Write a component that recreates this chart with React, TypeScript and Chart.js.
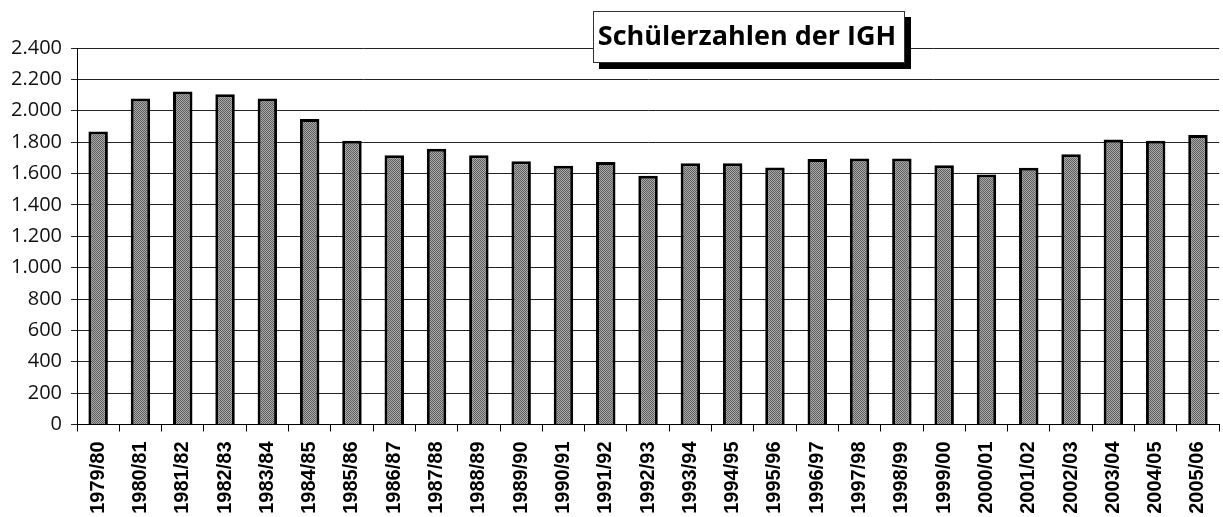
import React, { useEffect, useRef } from "react";
import { Chart, registerables } from "chart.js";

Chart.register(...registerables);

const categories = [
  "1979/80", "1980/81", "1981/82", "1982/83", "1983/84", "1984/85", "1985/86",
  "1986/87", "1987/88", "1988/89", "1989/90", "1990/91", "1991/92", "1992/93",
  "1993/94", "1994/95", "1995/96", "1996/97", "1997/98", "1998/99", "1999/00",
  "2000/01", "2001/02", "2002/03", "2003/04", "2004/05", "2005/06",
];

const students = [
  1867, 2078, 2122, 2105, 2078, 1948, 1809,
  1716, 1758, 1716, 1678, 1650, 1674, 1586,
  1665, 1665, 1639, 1693, 1695, 1695, 1652,
  1593, 1637, 1722, 1816, 1809, 1846,
];

const yTickValues = [0, 200, 400, 600, 800, 1000, 1200, 1400, 1600, 1800, 2000, 2200, 2400];

const chartTitle = "Schülerzahlen der IGH";

function formatThousands(v: number): string {
  const s = String(Math.round(v));
  return s.replace(/\B(?=(\d{3})+(?!\d))/g, ".");
}

const titlePlugin = {
  id: "boxedTitle",
  afterDraw(chart: any) {
    const ctx = chart.ctx as CanvasRenderingContext2D;
    const x = 593, y = 11, w = 312, h = 52, sh = 6;
    ctx.save();
    ctx.fillStyle = "#000";
    ctx.fillRect(x + sh, y + sh, w, h);
    ctx.fillStyle = "#fff";
    ctx.fillRect(x, y, w, h);
    ctx.strokeStyle = "#333";
    ctx.lineWidth = 1;
    ctx.strokeRect(x + 0.5, y + 0.5, w - 1, h - 1);
    ctx.fillStyle = "#000";
    ctx.font = "bold 27px 'Open Sans'";
    ctx.textAlign = "center";
    ctx.textBaseline = "alphabetic";
    ctx.fillText(chartTitle, 747, 44.5);
    ctx.restore();
  },
};

export default function App() {
  const canvasRef = useRef<HTMLCanvasElement | null>(null);

  useEffect(() => {
    document.body.style.margin = "0";
    const canvas = canvasRef.current;
    if (!canvas) return;

    const pc = document.createElement("canvas");
    pc.width = 2;
    pc.height = 2;
    const pctx = pc.getContext("2d")!;
    pctx.fillStyle = "#aaaaaa";
    pctx.fillRect(0, 0, 2, 2);
    pctx.fillStyle = "#5e5e5e";
    pctx.fillRect(0, 0, 1, 1);
    pctx.fillRect(1, 1, 1, 1);
    const pattern = canvas.getContext("2d")!.createPattern(pc, "repeat");

    const chart = new Chart(canvas, {
      type: "bar",
      data: {
        labels: categories,
        datasets: [
          {
            data: students,
            backgroundColor: pattern as any,
            borderColor: "#000",
            borderWidth: 3,
            categoryPercentage: 1,
            barPercentage: 0.46,
          },
        ],
      },
      options: {
        responsive: false,
        animation: false,
        layout: { padding: { top: 48, right: 2, left: 0, bottom: 0 } },
        plugins: {
          legend: { display: false },
          tooltip: { enabled: false },
          title: { display: false },
        },
        scales: {
          x: {
            offset: true,
            grid: {
              display: true,
              offset: true,
              drawOnChartArea: false,
              drawTicks: true,
              tickLength: 7,
              color: "#000",
              lineWidth: 1,
            },
            border: { display: true, color: "#000", width: 1 },
            ticks: {
              autoSkip: false,
              maxRotation: 90,
              minRotation: 90,
              padding: 10,
              color: "#000",
              font: { family: "'Liberation Sans', Arial", size: 20, weight: "bold" },
            },
            afterFit(scale: any) {
              scale.height = 92.5;
            },
          },
          y: {
            min: 0,
            max: 2400,
            afterBuildTicks(scale: any) {
              scale.ticks = yTickValues.map((v) => ({ value: v }));
            },
            grid: {
              color: "#222",
              lineWidth: 1,
              drawTicks: true,
              tickLength: 6,
            },
            border: { display: true, color: "#000", width: 1 },
            ticks: {
              padding: 9,
              color: "#111",
              font: { family: "'Open Sans'", size: 20 },
              callback: (v: any) => formatThousands(Number(v)),
            },
            afterFit(scale: any) {
              scale.width = 77;
            },
          },
        },
      },
      plugins: [titlePlugin],
    });

    return () => chart.destroy();
  }, []);

  return (
    <div style={{ position: "fixed", left: 0, top: 0, width: 1223, height: 517, overflow: "hidden", background: "#fff" }}>
      <canvas ref={canvasRef} width={1232} height={517} style={{ display: "block" }} />
    </div>
  );
}
